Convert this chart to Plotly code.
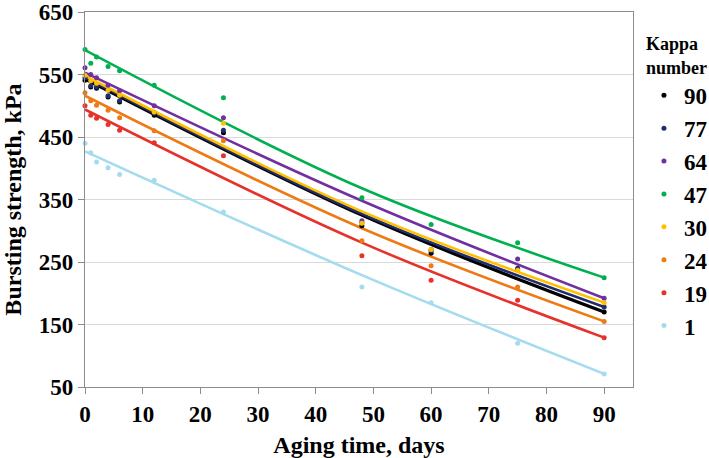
"""Bursting strength vs aging time, by Kappa number"""
import plotly.graph_objects as go

# sampling days
days = [0, 1, 2, 4, 6, 12, 24, 48, 60, 75, 90]

k90 = [541, 530, 528, 514, 506, 485, 457, 308, 264, 238, 170]
k77 = [545, 532, 530, 516, 508, 488, 461, 313, 268, 240, 178]
k64 = [561, 550, 545, 533, 524, 500, 481, 316, 270, 255, 192]
k47 = [590, 568, 578, 563, 556, 533, 513, 353, 310, 281, 225]
k30 = [549, 540, 536, 525, 517, 490, 472, 312, 270, 237, 185]
k24 = [521, 508, 501, 493, 481, 460, 444, 284, 244, 210, 155]
k19 = [500, 485, 480, 470, 461, 441, 420, 260, 221, 189, 129]
k1 = [440, 425, 410, 401, 390, 381, 330, 210, 185, 120, 71]

# trend lines, read at a few days
trend_days = [0, 48, 90]
t90 = [543, 325, 170]
t77 = [545, 327, 178]
t64 = [553, 348, 192]
t47 = [589, 368, 225]
t30 = [548, 331, 185]
t24 = [516, 304, 155]
t19 = [494, 281, 129]
t1 = [427, 229, 71]

series = [
    ("90", k90, t90, "#000000", 3.2),
    ("77", k77, t77, "#1F2D6E", 2.6),
    ("64", k64, t64, "#7030A0", 2.6),
    ("47", k47, t47, "#00B050", 2.6),
    ("30", k30, t30, "#FFC000", 2.6),
    ("24", k24, t24, "#EE7A14", 2.6),
    ("19", k19, t19, "#E5322A", 2.6),
    ("1", k1, t1, "#A4DBEF", 2.6),
]

FONT = "Liberation Serif"

fig = go.Figure()

# trend lines first, points on top
for name, pts, trend, color, lw in series:
    fig.add_trace(go.Scatter(
        x=trend_days, y=trend, mode="lines", line=dict(color=color, width=lw, shape="spline"),
        showlegend=False, hoverinfo="skip", cliponaxis=False,
    ))

for name, pts, trend, color, lw in series:
    fig.add_trace(go.Scatter(
        x=days, y=pts, mode="markers", name=name,
        marker=dict(color=color, size=5), cliponaxis=False,
    ))

axis_common = dict(
    showline=True, linecolor="#8C8C8C", linewidth=1.3, mirror=True,
    ticks="outside", ticklen=6, tickcolor="#8C8C8C",
    tickfont=dict(family=FONT, size=23, color="black", weight="bold"),
    zeroline=False, automargin=False,
)

fig.update_xaxes(
    range=[0, 95], tick0=0, dtick=10, showgrid=False,
    title=dict(text="Aging time, days", font=dict(family=FONT, size=24, color="black", weight="bold"),
               standoff=10),
    **axis_common,
)
fig.update_yaxes(
    range=[50, 650], tick0=50, dtick=100, showgrid=True, gridcolor="#D9D9D9", gridwidth=1,
    title=dict(text="Bursting strength, kPa", font=dict(family=FONT, size=24, color="black", weight="bold"),
               standoff=10),
    **axis_common,
)

fig.update_layout(
    width=709, height=458,
    margin=dict(l=85, r=76, t=12, b=71, autoexpand=False),
    plot_bgcolor="white", paper_bgcolor="white",
    legend=dict(
        x=1.02, y=0.96, xanchor="left", yanchor="top",
        title=dict(text="Kappa<br>number", font=dict(family=FONT, size=18, color="black", weight="bold")),
        font=dict(family=FONT, size=23, color="black", weight="bold"),
        bgcolor="rgba(0,0,0,0)", itemwidth=30,
    ),
)

# page has a default 8px body margin; drop it so the figure sits at (0, 0)
fig.write_html(
    "out.html",
    config={"displayModeBar": False},
    post_script="document.body.style.margin='0';document.body.style.overflow='hidden';",
)
